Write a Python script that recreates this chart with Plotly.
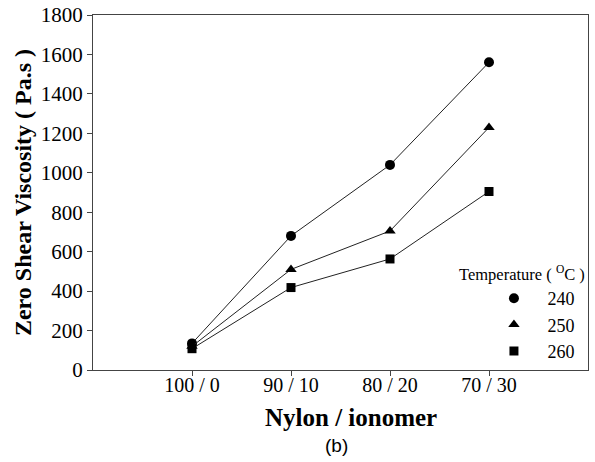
import plotly.graph_objects as go

categories = ["100 / 0", "90 / 10", "80 / 20", "70 / 30"]
temps = ["240", "250", "260"]
v240 = [135, 680, 1040, 1560]
v250 = [120, 510, 705, 1230]
v260 = [108, 418, 563, 905]
symbols = ["circle", "triangle-up", "square"]
sizes = [10, 10, 9]

fig = go.Figure()
for name, vals, sym, sz in zip(temps, [v240, v250, v260], symbols, sizes):
    fig.add_trace(go.Scatter(
        x=categories, y=vals, mode="lines", name=name, legendgroup=name,
        showlegend=False, line=dict(color="#222", width=1), hoverinfo="skip",
    ))
    fig.add_trace(go.Scatter(
        x=categories, y=vals, mode="markers", name="\u00a0\u00a0\u00a0" + name, legendgroup=name,
        marker=dict(symbol=sym, size=sz, color="black"),
    ))

serif = "Liberation Serif, Times New Roman, serif"
fig.update_layout(
    width=595, height=462,
    margin=dict(l=93, r=7, t=15, b=92),
    paper_bgcolor="white", plot_bgcolor="white",
    font=dict(family=serif, color="black", size=16),
    showlegend=True,
    legend=dict(
        x=0.81, y=0.0, xanchor="left", yanchor="bottom",
        bgcolor="rgba(0,0,0,0)",
        font=dict(family=serif, size=18),
        tracegroupgap=0,
    ),
    xaxis=dict(
        type="category", range=[-1, 4], automargin=False,
        showline=True, linecolor="#444", linewidth=1, mirror=True,
        ticks="outside", ticklen=5, tickcolor="#444",
        showgrid=False, zeroline=False,
        tickfont=dict(family=serif, size=20),
        ticklabelstandoff=-8,
    ),
    yaxis=dict(
        range=[0, 1800], dtick=200, automargin=False,
        showline=True, linecolor="#444", linewidth=1, mirror=True,
        ticks="outside", ticklen=5, tickcolor="#444",
        showgrid=False, zeroline=False,
        tickfont=dict(family=serif, size=21),
        title=dict(text="<b>Zero Shear Viscosity ( Pa.s )</b>", font=dict(family=serif, size=24), standoff=2),
    ),
)
fig.add_annotation(
    text="<b>Nylon / ionomer</b>", xref="paper", yref="paper", x=(351 - 93) / 495, y=-(417 - 370) / 355,
    showarrow=False, font=dict(family=serif, size=25, color="black"),
    xanchor="center", yanchor="middle",
)
fig.add_annotation(
    text="Temperature ( <sup>O</sup>C )", xref="paper", yref="paper", x=0.997, y=0.273,
    showarrow=False, font=dict(family=serif, size=16.5, color="black"),
    xanchor="right", yanchor="middle",
)
fig.add_annotation(
    text="(b)", xref="paper", yref="paper", x=(336 - 93) / 495, y=-(445 - 370) / 355,
    showarrow=False, font=dict(family="Liberation Sans, Arial, sans-serif", size=19, color="black"),
    xanchor="center", yanchor="middle",
)
fig.write_html("out.html")
